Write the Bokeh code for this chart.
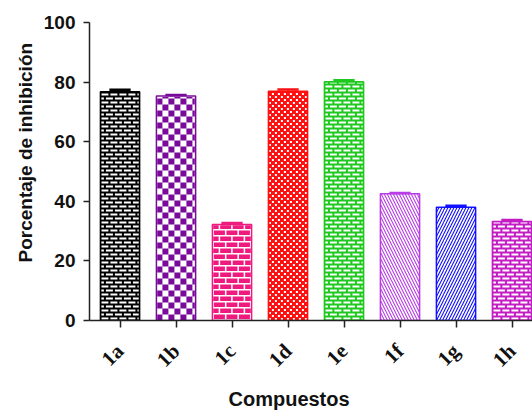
import math
from bokeh.plotting import figure
from bokeh.models import ColumnDataSource, Range1d, FixedTicker, Title
from bokeh.embed import file_html
from bokeh.resources import INLINE

# ---- data ----
compounds = ["1a", "1b", "1c", "1d", "1e", "1f", "1g", "1h"]
inhibition = [76.8, 75.3, 32.2, 76.9, 80.1, 42.5, 38.0, 33.2]
sem = [0.6, 0.4, 0.5, 0.6, 0.5, 0.3, 0.5, 0.5]
colors = ["#000000", "#7a0a9a", "#ee1a7e", "#ff1010", "#1ec81e", "#b83ce8", "#1010ff", "#c41cc4"]
pattern_kinds = ["brick_s", "checker", "brick_l", "fine", "brick_s", "left_diagonal_line", "right_diagonal_line", "brick_s"]
y_ticks = [0, 20, 40, 60, 80, 100]

# ---- layout ----
W, H = 532, 411
BL, BT, BB = 89, 22, 91
X_START, X_END = -0.545, 7.366
Y_START, Y_END = 0, 100
KX = (W - BL) / (X_END - X_START)       # px per x unit
KY = (H - BT - BB) / (Y_END - Y_START)  # px per y unit

xs = list(range(len(compounds)))
bar_w = 0.70
cap_half = 0.19


def bar_pattern(cx, top, kind):
    """Pattern cells for one bar, laid out in screen pixels and converted to data units."""
    L = cx - bar_w / 2
    wpx = bar_w * KX
    hpx = top * KY - 0.8
    out = []

    def add(x0, x1, y0, y1):
        x0, x1 = max(x0, 0.8), min(x1, wpx - 0.8)
        y1 = min(y1, hpx)
        if x1 - x0 > 0.3 and y1 - y0 > 0.3:
            out.append((L + x0 / KX, L + x1 / KX, y0 / KY, y1 / KY))

    if kind == "brick_s":      # white bricks in coloured mortar
        row, bh, per, bw = 4, 2, 9, 7
        for r in range(int(hpx // row) + 1):
            off = 0 if r % 2 == 0 else per / 2
            y0 = r * row + 1
            k = -1
            while -off + k * per < wpx:
                s = -off + k * per + 1
                add(s, s + bw, y0, y0 + bh)
                k += 1
    elif kind == "brick_l":    # coloured bricks in white mortar
        row, bh, per, bw = 6, 4.5, 12.5, 11
        for r in range(int(hpx // row) + 1):
            off = 0 if r % 2 == 0 else per / 2
            y0 = r * row + 1.5
            k = -1
            while -off + k * per < wpx:
                s = -off + k * per + 1.5
                add(s, s + bw, y0, y0 + bh)
                k += 1
    elif kind == "checker":    # coloured squares
        c = 6
        for r in range(int(hpx // c) + 1):
            for k in range(int(wpx // c) + 2):
                if (r + k) % 2 == 0:
                    add(k * c, (k + 1) * c, r * c, (r + 1) * c)
    elif kind == "fine":       # small white squares on colour
        row, per, sq = 3, 6, 2
        for r in range(int(hpx // row) + 1):
            off = 0 if r % 2 == 0 else per / 2
            for k in range(-1, int(wpx // per) + 2):
                s = off + k * per + 0.5
                add(s, s + sq, r * row + 0.5, r * row + 0.5 + sq)
    return out


p = figure(width=W, height=H, output_backend="svg", toolbar_location=None,
           x_range=Range1d(X_START, X_END), y_range=Range1d(Y_START, Y_END),
           min_border_left=BL, min_border_right=0, min_border_top=BT, min_border_bottom=BB)
p.outline_line_color = None
p.xgrid.grid_line_color = None
p.ygrid.grid_line_color = None

for i, (kind, col) in enumerate(zip(pattern_kinds, colors)):
    src = ColumnDataSource(dict(x=[xs[i]], top=[inhibition[i]], etop=[inhibition[i] + sem[i]],
                                cx0=[xs[i] - cap_half], cx1=[xs[i] + cap_half]))
    filled = kind in ("brick_s", "fine")
    hatch = kind if kind.endswith("diagonal_line") else None
    p.vbar(x="x", top="top", width=bar_w, bottom=0, source=src,
           fill_color=col if filled else "white", line_color=None,
           hatch_pattern=hatch, hatch_color=col, hatch_scale=6, hatch_weight=1.1)
    cells = bar_pattern(xs[i], inhibition[i], kind)
    if cells:
        l, r, b, t = zip(*cells)
        p.quad(left=list(l), right=list(r), bottom=list(b), top=list(t),
               fill_color="white" if filled else col, line_color=None)
    p.vbar(x="x", top="top", width=bar_w, bottom=0, source=src,
           fill_color=None, line_color=col, line_width=1.5)
    p.segment(x0="x", x1="x", y0="top", y1="etop", source=src, line_color=col, line_width=2)
    p.segment(x0="cx0", x1="cx1", y0="etop", y1="etop", source=src, line_color=col, line_width=2.5)

ax = p.xaxis[0]
ax.ticker = FixedTicker(ticks=xs)
ax.major_label_overrides = {i: c for i, c in enumerate(compounds)}
ax.major_label_orientation = math.pi / 4
ax.major_label_text_font = "Liberation Serif"
ax.major_label_text_font_style = "bold"
ax.major_label_text_font_size = "21px"
ax.major_label_text_color = "#111111"
ax.major_label_standoff = 20
ax.minor_tick_line_color = None
ax.major_tick_in = 0
ax.major_tick_out = 7
ax.major_tick_line_width = 1.5
ax.axis_line_width = 1.5
ax.axis_line_color = "#222222"
ax.major_tick_line_color = "#222222"

ay = p.yaxis[0]
ay.ticker = FixedTicker(ticks=y_ticks)
ay.major_label_text_font = "Liberation Sans"
ay.major_label_text_font_style = "bold"
ay.major_label_text_font_size = "19px"
ay.major_label_text_color = "#111111"
ay.major_label_standoff = 8
ay.minor_tick_line_color = None
ay.major_tick_in = 0
ay.major_tick_out = 6
ay.major_tick_line_width = 1.5
ay.axis_line_width = 1.5
ay.axis_line_color = "#222222"
ay.major_tick_line_color = "#222222"

t_y = Title(text="Porcentaje de inhibición", align="left", offset=58,
            text_font="Liberation Sans", text_font_style="bold",
            text_font_size="19px", text_color="#111111")
t_x = Title(text="Compuestos", align="left", offset=139,
            text_font="Liberation Sans", text_font_style="bold",
            text_font_size="20px", text_color="#111111")
if "standoff" in Title.properties():
    t_x.standoff = 4
p.add_layout(t_y, "left")
p.add_layout(t_x, "below")

open("out.html", "w").write(file_html(p, INLINE))
